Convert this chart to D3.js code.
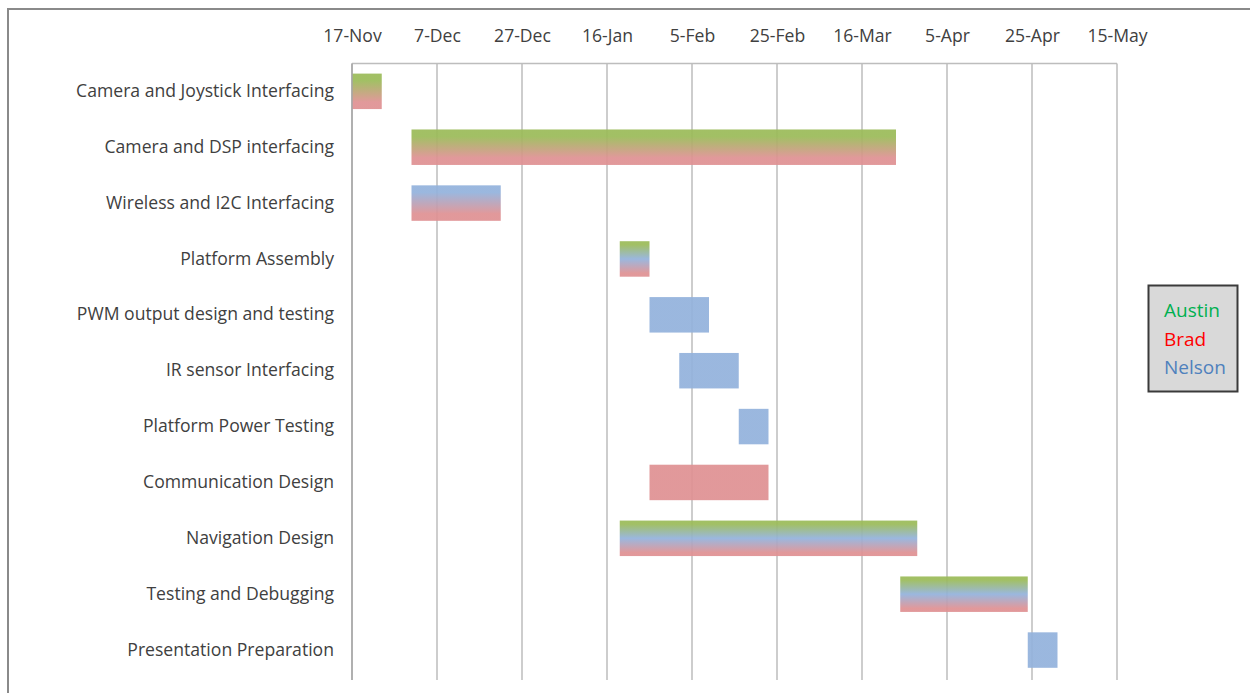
<!DOCTYPE html>
<html>
<head>
<meta charset="utf-8">
<script src="https://cdn.jsdelivr.net/npm/d3@7"></script>
<style>
    body{margin:0;background:#fff;}
    svg{display:block;}
    svg text{font-family:"Open Sans",sans-serif;}
    .tick text{fill:#404040;font-size:17.6px;}
    .legend text{font-size:19px;}
</style>
</head>
<body>
<svg id="graph1"></svg>
<script>
// tasks, top to bottom
var tasks=["Camera and Joystick Interfacing","Camera and DSP interfacing","Wireless and I2C Interfacing",
    "Platform Assembly","PWM output design and testing","IR sensor Interfacing","Platform Power Testing",
    "Communication Design","Navigation Design","Testing and Debugging","Presentation Preparation"]
var starts=["2011-11-17","2011-12-01","2011-12-01","2012-01-19","2012-01-26","2012-02-02",
    "2012-02-16","2012-01-26","2012-01-19","2012-03-25","2012-04-24"]
var ends=["2011-11-24","2012-03-24","2011-12-22","2012-01-26","2012-02-09","2012-02-16",
    "2012-02-23","2012-02-23","2012-03-29","2012-04-24","2012-05-01"]
// who worked on each task (gradient top to bottom)
var members=[["Austin","Brad"],["Austin","Brad"],["Nelson","Brad"],["Austin","Nelson","Brad"],
    ["Nelson"],["Nelson"],["Nelson"],["Brad"],["Austin","Nelson","Brad"],["Austin","Nelson","Brad"],["Nelson"]]
var people=["Austin","Brad","Nelson"]
var tickDates=["2011-11-17","2011-12-07","2011-12-27","2012-01-16","2012-02-05","2012-02-25",
    "2012-03-16","2012-04-05","2012-04-25","2012-05-15"]

var barColors={Austin:"#9bbb59",Brad:"#df9193",Nelson:"#93b2dc"}
var textColors={Austin:"#00b050",Brad:"#ff0000",Nelson:"#4f81bd"}

var parse=d3.timeParse("%Y-%m-%d")

var initGraph1=function()
    {
        var screen={width:1250,height:693}
        var margins={left:352,right:133,top:63.4,bottom:15}
        var graph=
            {
                width:screen.width-margins.left-margins.right,
                height:614.6
            }

        var svg=d3.select("#graph1")
            .attr("width",screen.width)
            .attr("height",screen.height)

        // outer frame (top and left only visible)
        svg.append("path")
            .attr("d","M8,693 L8,9 L1250,9")
            .attr("fill","none")
            .attr("stroke","#8a8a8a")
            .attr("stroke-width",2)

        var target=svg.append("g")
            .attr("id","canvas1")
            .attr("transform","translate("+margins.left+","+margins.top+")")

        var xScale=d3.scaleTime()
            .domain([parse(tickDates[0]),parse(tickDates[tickDates.length-1])])
            .range([0,graph.width])

        var yScale=d3.scaleBand()
            .domain(tasks)
            .range([0,graph.height])
            .paddingInner(0.365)
            .paddingOuter(0.1825)

        drawGrid1(target,graph,xScale)
        drawBars1(svg,target,xScale,yScale)
        drawAxes1(target,graph,xScale,yScale)
        drawLegend1(svg)
    }

var drawGrid1=function(target,graph,xScale)
    {
        target.append("g")
            .selectAll("line")
            .data(tickDates)
            .enter()
            .append("line")
            .attr("x1",function(d){return xScale(parse(d))})
            .attr("x2",function(d){return xScale(parse(d))})
            .attr("y1",0)
            .attr("y2",graph.height+2)
            .attr("stroke","#bdbdbd")
            .attr("stroke-width",1.5)
        target.append("line")
            .attr("x1",0)
            .attr("x2",graph.width)
            .attr("y1",0)
            .attr("y2",0)
            .attr("stroke","#bdbdbd")
            .attr("stroke-width",1.5)
    }

var drawBars1=function(svg,target,xScale,yScale)
    {
        var defs=svg.append("defs")
        tasks.forEach(function(t,i)
            {
                var who=members[i]
                var grad=defs.append("linearGradient")
                    .attr("id","grad"+i)
                    .attr("x1",0).attr("x2",0)
                    .attr("y1",0).attr("y2",1)
                if(who.length==1)
                    {
                        grad.append("stop").attr("offset","0%").attr("stop-color",barColors[who[0]])
                        grad.append("stop").attr("offset","100%").attr("stop-color",barColors[who[0]])
                    }
                else
                    {
                        who.forEach(function(p,j)
                            {
                                var off=who.length==2 ? [0.2,0.8][j] : [0.1,0.5,0.9][j]
                                grad.append("stop")
                                    .attr("offset",(off*100)+"%")
                                    .attr("stop-color",barColors[p])
                            })
                    }
            })

        target.append("g")
            .selectAll("rect")
            .data(tasks)
            .enter()
            .append("rect")
            .attr("x",function(d,i){return xScale(parse(starts[i]))})
            .attr("y",function(d){return yScale(d)})
            .attr("width",function(d,i){return xScale(parse(ends[i]))-xScale(parse(starts[i]))})
            .attr("height",yScale.bandwidth())
            .attr("fill",function(d,i){return "url(#grad"+i+")"})
            .attr("fill-opacity",0.93)
    }

var drawAxes1=function(target,graph,xScale,yScale)
    {
        var xAxis=d3.axisTop(xScale)
            .tickValues(tickDates.map(parse))
            .tickFormat(d3.timeFormat("%-d-%b"))
            .tickSize(0)
            .tickPadding(21)
        target.append("g")
            .call(xAxis)
            .call(function(g){g.select(".domain").remove()})

        var yAxis=d3.axisLeft(yScale)
            .tickSize(0)
            .tickPadding(18)
        target.append("g")
            .call(yAxis)
            .call(function(g){g.select(".domain").remove()})

        target.append("line")
            .attr("x1",0).attr("x2",0)
            .attr("y1",0).attr("y2",graph.height+2)
            .attr("stroke","#a6a6a6")
            .attr("stroke-width",1.5)
    }

var drawLegend1=function(svg)
    {
        var legend=svg.append("g")
            .classed("legend",true)
        legend.append("rect")
            .attr("x",1148.5)
            .attr("y",285.5)
            .attr("width",89)
            .attr("height",106)
            .attr("fill","#d9d9d9")
            .attr("stroke","#3a3a3a")
            .attr("stroke-width",2)
        legend.selectAll("text")
            .data(people)
            .enter()
            .append("text")
            .attr("x",1164)
            .attr("y",function(d,i){return 317+i*28.5})
            .attr("fill",function(d){return textColors[d]})
            .text(function(d){return d})
    }

initGraph1()
</script>
</body>
</html>
